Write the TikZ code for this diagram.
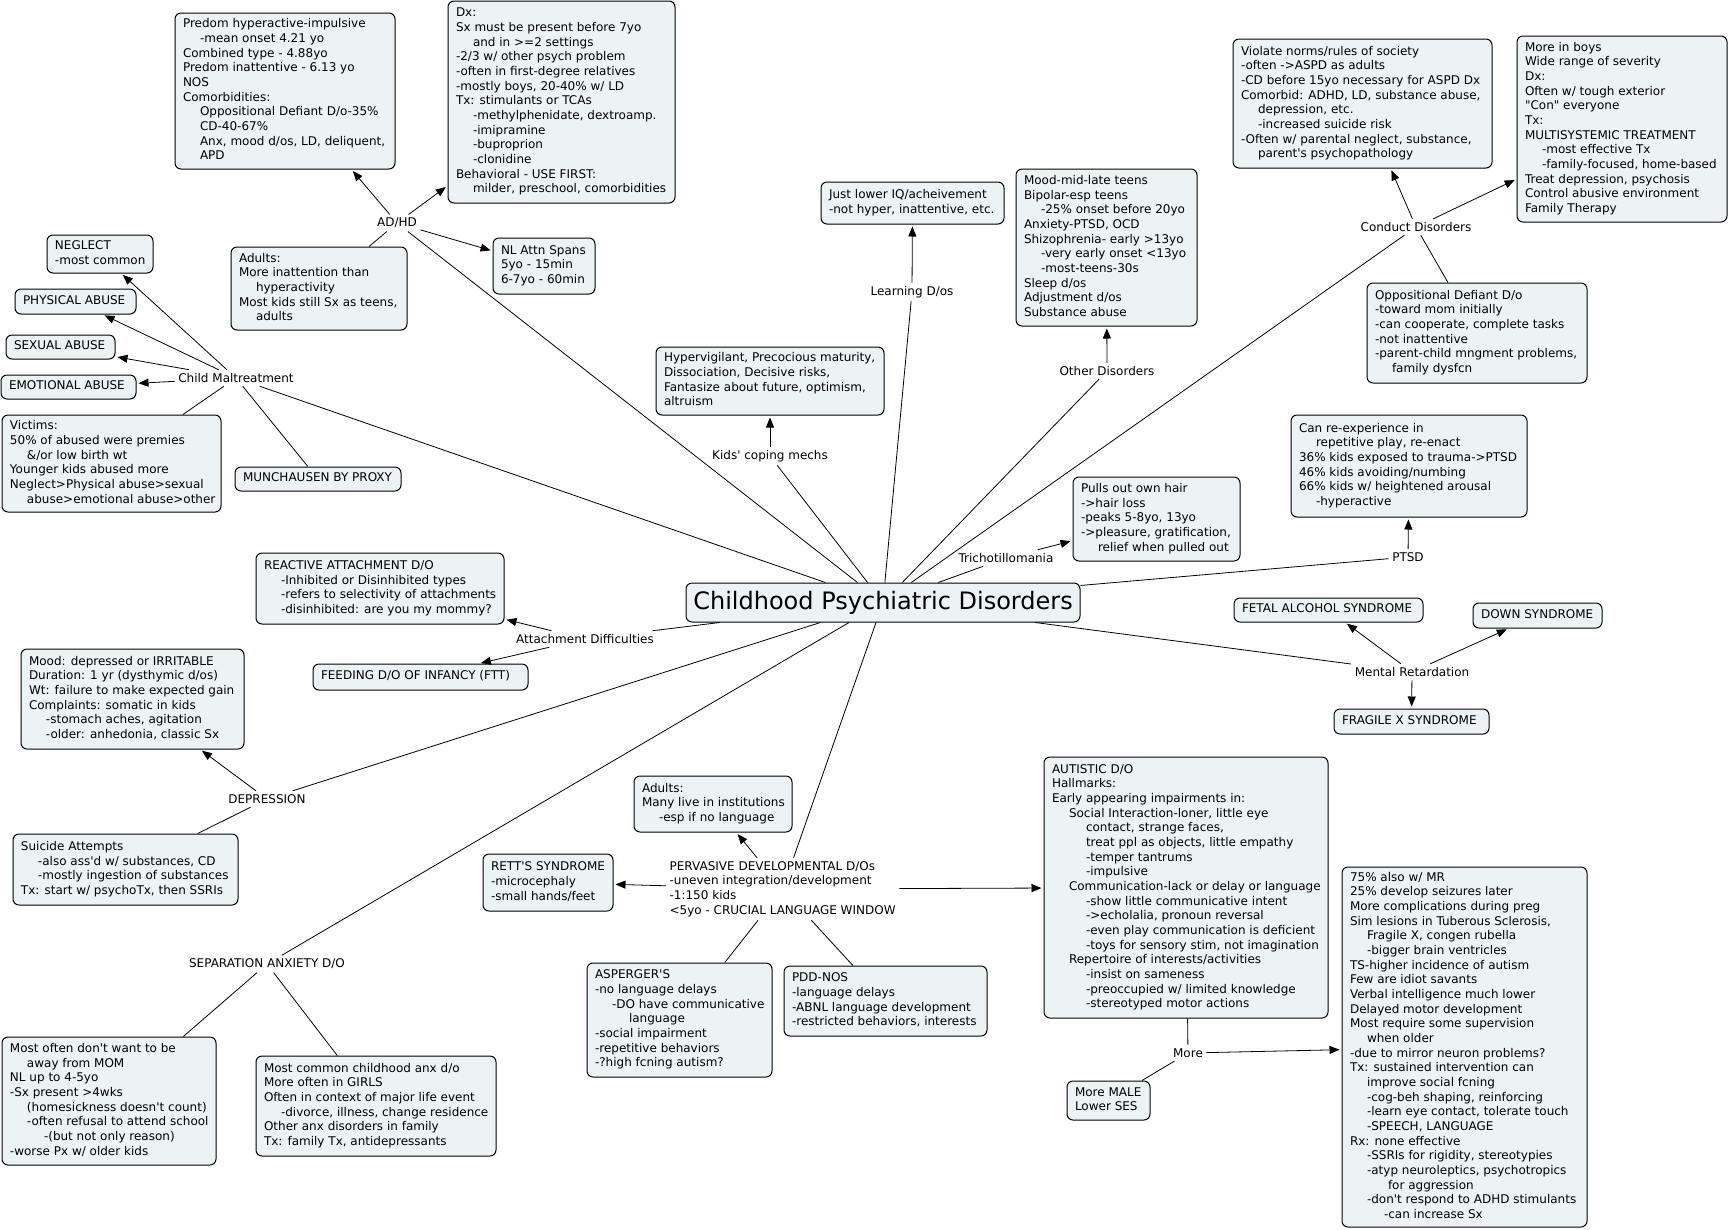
\documentclass[tikz,border=0pt]{standalone}
\usepackage{fontspec}
\newfontfamily\vf{DejaVu Sans}
\usetikzlibrary{arrows.meta}
\definecolor{boxfill}{RGB}{236,243,245}
\newcommand\I{\hspace*{12.75pt}}
\newcommand\bx[6]{%
 \pgfmathsetlengthmacro\bw{(#4-#2-16)*0.75pt}%
 \pgfmathsetlengthmacro\bwd{(#4-#2)*0.75pt}%
 \pgfmathsetlengthmacro\bht{(#5-#3)*0.75pt}%
 \node[box, minimum width=\bwd, minimum height=\bht] (#1) at ({(#2+#4)/2},{(#3+#5)/2}) {\makebox[\bw][l]{\begin{tabular}{@{}l@{}}#6\end{tabular}}};}
\begin{document}
\begin{tikzpicture}[x=0.75pt,y=-0.75pt,
  box/.style={draw=black, line width=0.75pt, rounded corners=4.5pt, fill=boxfill,
    inner xsep=6pt, inner ysep=0pt, font=\vf\fontsize{9}{11}\selectfont, text=black},
  lbl/.style={font=\vf\fontsize{9}{11}\selectfont, inner sep=2.5pt, text=black},
  con/.style={line width=0.6pt, draw=black},
  arr/.style={con, -{Triangle[length=7.5pt,width=6pt]}, shorten >=1.5pt}]
\fill[white] (0,0) rectangle (1729,1229);
\useasboundingbox (0,0) rectangle (1729,1229);

% ---------- central node
\node[box, font=\vf\fontsize{18}{22}\selectfont, minimum width=295.5pt, minimum height=29.25pt, inner xsep=0pt] (center) at (883,602.5) {Childhood Psychiatric Disorders};

% ---------- AD/HD
\bx{predom}{175}{13}{395}{169}{Predom hyperactive-impulsive\\ \I-mean onset 4.21 yo\\ Combined type - 4.88yo\\ Predom inattentive - 6.13 yo\\ NOS\\ Comorbidities:\\ \I Oppositional Defiant D/o-35\%\\ \I CD-40-67\%\\ \I Anx, mood d/os, LD, deliquent,\\ \I APD}
\bx{dx}{448}{1}{675}{203}{Dx:\\ Sx must be present before 7yo\\ \I and in >=2 settings\\ -2/3 w/ other psych problem\\ -often in first-degree relatives\\ -mostly boys, 20-40\% w/ LD\\ Tx: stimulants or TCAs\\ \I-methylphenidate, dextroamp.\\ \I-imipramine\\ \I-buproprion\\ \I-clonidine\\ Behavioral - USE FIRST:\\ \I milder, preschool, comorbidities}
\bx{adadults}{231}{247}{407}{330}{Adults:\\ More inattention than\\ \I hyperactivity\\ Most kids still Sx as teens,\\ \I adults}
\bx{nlattn}{493}{238}{595}{294}{NL Attn Spans\\ 5yo - 15min\\ 6-7yo - 60min}
\node[lbl] (adhd) at (397,223) {AD/HD};

% ---------- Child maltreatment
\bx{neglect}{47}{235}{153}{273}{NEGLECT\\ -most common}
\bx{phys}{15}{289}{136}{314}{PHYSICAL ABUSE}
\bx{sexual}{6}{335}{115}{359}{SEXUAL ABUSE}
\bx{emot}{1}{375}{136}{399}{EMOTIONAL ABUSE}
\bx{victims}{2}{415}{221}{512}{Victims:\\ 50\% of abused were premies\\ \I\&/or low birth wt\\ Younger kids abused more\\ Neglect>Physical abuse>sexual\\ \I abuse>emotional abuse>other}
\bx{munch}{235}{467}{401}{491}{MUNCHAUSEN BY PROXY}
\node[lbl] (cm) at (236,378) {Child Maltreatment};

% ---------- Learning, coping, other
\bx{lowiq}{821}{182}{1004}{224}{Just lower IQ/acheivement\\ -not hyper, inattentive, etc.}
\node[lbl] (learn) at (912,292) {Learning D/os};
\bx{hyperv}{656}{347}{884}{415}{Hypervigilant, Precocious maturity,\\ Dissociation, Decisive risks,\\ Fantasize about future, optimism,\\ altruism}
\node[lbl] (kids) at (770,456) {Kids' coping mechs};
\bx{otherbox}{1016}{169}{1197}{326}{Mood-mid-late teens\\ Bipolar-esp teens\\ \I-25\% onset before 20yo\\ Anxiety-PTSD, OCD\\ Shizophrenia- early >13yo\\ \I-very early onset <13yo\\ \I-most-teens-30s\\ Sleep d/os\\ Adjustment d/os\\ Substance abuse}
\node[lbl] (other) at (1107,371) {Other Disorders};

% ---------- Conduct
\bx{violate}{1233}{39}{1492}{168}{Violate norms/rules of society\\ -often ->ASPD as adults\\ -CD before 15yo necessary for ASPD Dx\\ Comorbid: ADHD, LD, substance abuse,\\ \I depression, etc.\\ \I-increased suicide risk\\ -Often w/ parental neglect, substance,\\ \I parent's psychopathology}
\bx{boys}{1517}{36}{1727}{222}{More in boys\\ Wide range of severity\\ Dx:\\ Often w/ tough exterior\\ "Con" everyone\\ Tx:\\ MULTISYSTEMIC TREATMENT\\ \I-most effective Tx\\ \I-family-focused, home-based\\ Treat depression, psychosis\\ Control abusive environment\\ Family Therapy}
\bx{odd}{1367}{283}{1587}{383}{Oppositional Defiant D/o\\ -toward mom initially\\ -can cooperate, complete tasks\\ -not inattentive\\ -parent-child mngment problems,\\ \I family dysfcn}
\node[lbl] (conduct) at (1416,227) {Conduct Disorders};

% ---------- Trich, PTSD, MR
\bx{pulls}{1073}{477}{1240}{561}{Pulls out own hair\\ ->hair loss\\ -peaks 5-8yo, 13yo\\ ->pleasure, gratification,\\ \I relief when pulled out}
\node[lbl] (trich) at (1006,558) {Trichotillomania};
\bx{ptsdbox}{1291}{415}{1527}{517}{Can re-experience in\\ \I repetitive play, re-enact\\ 36\% kids exposed to trauma->PTSD\\ 46\% kids avoiding/numbing\\ 66\% kids w/ heightened arousal\\ \I-hyperactive}
\node[lbl] (ptsd) at (1408,557) {PTSD};
\bx{fetal}{1234}{598}{1423}{622}{FETAL ALCOHOL SYNDROME}
\bx{down}{1473}{603}{1602}{628}{DOWN SYNDROME}
\bx{fragile}{1334}{709}{1489}{734}{FRAGILE X SYNDROME}
\node[lbl] (mr) at (1412,672) {Mental Retardation};

% ---------- Attachment, depression, separation
\bx{reactive}{256}{553}{504}{624}{REACTIVE ATTACHMENT D/O\\ \I-Inhibited or Disinhibited types\\ \I-refers to selectivity of attachments\\ \I-disinhibited: are you my mommy?}
\bx{feeding}{313}{664}{528}{690}{FEEDING D/O OF INFANCY (FTT)}
\node[lbl] (att) at (585,639) {Attachment Difficulties};
\bx{mood}{21}{649}{244}{749}{Mood: depressed or IRRITABLE\\ Duration: 1 yr (dysthymic d/os)\\ Wt: failure to make expected gain\\ Complaints: somatic in kids\\ \I-stomach aches, agitation\\ \I-older: anhedonia, classic Sx}
\bx{suicide}{13}{834}{238}{905}{Suicide Attempts\\ \I-also ass'd w/ substances, CD\\ \I-mostly ingestion of substances\\ Tx: start w/ psychoTx, then SSRIs}
\node[lbl] (dep) at (267,799) {DEPRESSION};
\bx{mostoften}{2}{1037}{216}{1165}{Most often don't want to be\\ \I away from MOM\\ NL up to 4-5yo\\ -Sx present >4wks\\ \I(homesickness doesn't count)\\ \I-often refusal to attend school\\ \I\I-(but not only reason)\\ -worse Px w/ older kids}
\bx{mostcommon}{256}{1056}{496}{1156}{Most common childhood anx d/o\\ More often in GIRLS\\ Often in context of major life event\\ \I-divorce, illness, change residence\\ Other anx disorders in family\\ Tx: family Tx, antidepressants}
\node[lbl] (sep) at (267,964) {SEPARATION ANXIETY D/O};

% ---------- PDD
\node[lbl, anchor=west, align=left] (pdd) at (666,889) {PERVASIVE DEVELOPMENTAL D/Os\\ -uneven integration/development\\ -1:150 kids\\ <5yo - CRUCIAL LANGUAGE WINDOW};
\bx{pddadults}{634}{776}{792}{832}{Adults:\\ Many live in institutions\\ \I-esp if no language}
\bx{rett}{483}{854}{613}{911}{RETT'S SYNDROME\\ -microcephaly\\ -small hands/feet}
\bx{asperger}{587}{963}{772}{1077}{ASPERGER'S\\ -no language delays\\ \I-DO have communicative\\ \I\I language\\ -social impairment\\ -repetitive behaviors\\ -?high fcning autism?}
\bx{pddnos}{784}{966}{987}{1036}{PDD-NOS\\ -language delays\\ -ABNL language development\\ -restricted behaviors, interests}
\bx{autistic}{1044}{757}{1328}{1018}{AUTISTIC D/O\\ Hallmarks:\\ Early appearing impairments in:\\ \I Social Interaction-loner, little eye\\ \I\I contact, strange faces,\\ \I\I treat ppl as objects, little empathy\\ \I\I-temper tantrums\\ \I\I-impulsive\\ \I Communication-lack or delay or language\\ \I\I-show little communicative intent\\ \I\I->echolalia, pronoun reversal\\ \I\I-even play communication is deficient\\ \I\I-toys for sensory stim, not imagination\\ \I Repertoire of interests/activities\\ \I\I-insist on sameness\\ \I\I-preoccupied w/ limited knowledge\\ \I\I-stereotyped motor actions}
\node[lbl] (more) at (1188,1053) {More};
\bx{male}{1067}{1081}{1150}{1120}{More MALE\\ Lower SES}
\bx{bigbox}{1342}{867}{1587}{1227}{75\% also w/ MR\\ 25\% develop seizures later\\ More complications during preg\\ Sim lesions in Tuberous Sclerosis,\\ \I Fragile X, congen rubella\\ \I-bigger brain ventricles\\ TS-higher incidence of autism\\ Few are idiot savants\\ Verbal intelligence much lower\\ Delayed motor development\\ Most require some supervision\\ \I when older\\ -due to mirror neuron problems?\\ Tx: sustained intervention can\\ \I improve social fcning\\ \I-cog-beh shaping, reinforcing\\ \I-learn eye contact, tolerate touch\\ \I-SPEECH, LANGUAGE\\ Rx: none effective\\ \I-SSRIs for rigidity, stereotypies\\ \I-atyp neuroleptics, psychotropics\\ \hspace*{28.5pt}for aggression\\ \I-don't respond to ADHD stimulants\\ \I\I-can increase Sx}

% ---------- connectors
\draw[con] (center) -- (adhd);
\draw[arr] (adhd) -- (predom);
\draw[arr] (adhd) -- (dx);
\draw[arr] (adhd) -- (nlattn);
\draw[con] (adhd) -- (adadults);

\draw[con] (center) -- (cm);
\draw[arr] (cm) -- (neglect);
\draw[arr] (cm) -- (phys);
\draw[arr] (cm) -- (sexual);
\draw[arr] (cm) -- (emot);
\draw[con] (cm) -- (victims);
\draw[con] (cm) -- (munch);

\draw[con] (center) -- (learn);
\draw[arr] (learn) -- (lowiq);
\draw[con] (center) -- (kids);
\draw[arr] (kids) -- (hyperv);
\draw[con] (center) -- (other);
\draw[arr] (other) -- (otherbox);

\draw[con] (center) -- (conduct);
\draw[arr] (conduct) -- (violate);
\draw[arr] (conduct) -- (boys);
\draw[con] (conduct) -- (odd);

\draw[con] (center) -- (trich);
\draw[arr] (trich) -- (pulls);
\draw[con] (center) -- (ptsd);
\draw[arr] (ptsd) -- (ptsdbox);
\draw[con] (center) -- (mr);
\draw[arr] (mr) -- (fetal);
\draw[arr] (mr) -- (down);
\draw[arr] (mr) -- (fragile);

\draw[con] (center) -- (att);
\draw[arr] (att) -- (reactive);
\draw[arr] (att) -- (feeding);
\draw[con] (center) -- (dep);
\draw[arr] (dep) -- (mood);
\draw[con] (dep) -- (suicide);
\draw[con] (center) -- (sep);
\draw[con] (sep) -- (mostoften);
\draw[con] (sep) -- (mostcommon);

\draw[con] (center) -- (pdd);
\draw[arr] (pdd) -- (rett);
\draw[arr] (pdd) -- (pddadults);
\draw[arr] (pdd) -- (autistic);
\draw[con] (pdd) -- (asperger);
\draw[con] (pdd) -- (pddnos);
\draw[con] (autistic) -- (more);
\draw[con] (more) -- (male);
\draw[arr] (more) -- (bigbox);
\end{tikzpicture}
\end{document}
